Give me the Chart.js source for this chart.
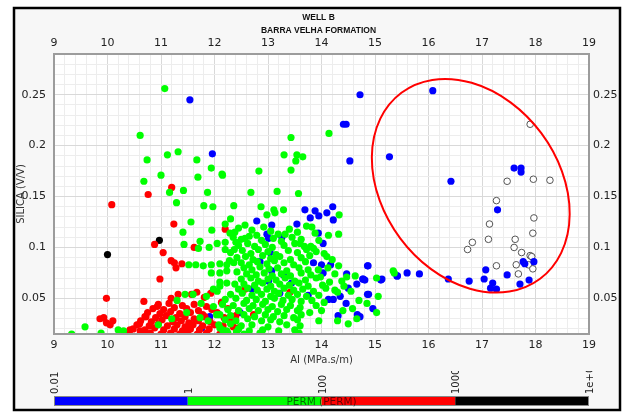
<!DOCTYPE html>
<html><head><meta charset="utf-8">
<script src="https://cdn.jsdelivr.net/npm/chart.js@4/dist/chart.umd.min.js"></script>
<style>html,body{margin:0;padding:0;background:#fff}canvas{display:block}</style>
</head><body>
<canvas id="c" width="624" height="415"></canvas>
<script>
// Acoustic impedance (MPa.s/m) vs silica (V/V), coloured by permeability class
const chartTitle = ['WELL B', 'BARRA VELHA FORMATION'];
const xTitle = 'AI (MPa.s/m)';
const yTitle = 'SILICA (V/V)';
const xRange = [9, 19];
const yRange = [0.015, 0.29];

// PERM < 1 mD
const permLow = [
  [16.08,0.254],[15.27,0.189],[16.42,0.165],[17.60,0.178],[17.73,0.178],[17.73,0.174],[17.29,0.137],
  [17.97,0.086],[17.77,0.086],[17.80,0.084],[17.07,0.078],[17.47,0.073],[17.04,0.069],[17.20,0.065],
  [17.16,0.060],[17.27,0.059],[17.71,0.064],[17.88,0.068],[16.76,0.067],[16.37,0.069],
  [15.83,0.074],[15.60,0.075],[15.42,0.072],[15.11,0.068],[14.96,0.040],[14.88,0.054],[14.87,0.082],
  [14.81,0.068],[14.77,0.069],[14.72,0.032],[14.72,0.250],[14.41,0.221],[14.46,0.221],[14.53,0.185],
  [13.69,0.137],[13.88,0.136],[14.21,0.140],[13.79,0.129],[13.95,0.131],[14.10,0.134],[14.22,0.127],
  [13.54,0.123],[13.07,0.122],[12.79,0.126],[12.98,0.113],[13.01,0.109],[13.26,0.110],[13.94,0.114],
  [14.03,0.104],[13.85,0.085],[14.00,0.083],[14.03,0.075],[14.17,0.083],[14.47,0.074],[14.78,0.069],
  [14.86,0.082],[15.13,0.069],[15.41,0.072],[14.50,0.060],[14.66,0.064],[14.86,0.054],[14.46,0.045],
  [14.67,0.034],[14.31,0.033],[14.22,0.049],[14.35,0.052],[14.13,0.049],[13.75,0.053],
  [11.54,0.245],[11.96,0.192],[11.91,0.032],[11.76,0.021],[12.46,0.037],
  [12.85,0.086],[13.07,0.077],[13.04,0.095],[13.01,0.067],[13.29,0.073],[13.44,0.065],[12.70,0.059],
  [12.48,0.036],[13.22,0.055]
];

// 1 mD <= PERM < 100 mD
const permMid = [
  [11.07,0.256],[10.61,0.210],[13.43,0.208],[14.14,0.212],[13.30,0.191],[13.54,0.191],[13.65,0.189],
  [13.52,0.185],[11.12,0.191],[11.32,0.194],[10.74,0.186],[11.67,0.186],[11.94,0.178],[12.14,0.172],
  [11.69,0.169],[11.00,0.171],[10.68,0.165],[12.83,0.175],[13.43,0.176],[12.15,0.171],[11.16,0.154],
  [11.42,0.156],[11.87,0.154],[12.68,0.154],[13.17,0.155],[13.57,0.153],[11.29,0.144],[11.80,0.141],
  [11.97,0.140],[12.36,0.141],[12.87,0.140],[13.11,0.137],[13.29,0.137],[13.13,0.134],[12.98,0.132],
  [14.33,0.132],[12.30,0.128],[12.57,0.122],[11.56,0.125],[12.20,0.123],[11.41,0.115],[11.95,0.117],
  [12.38,0.115],
  [11.43,0.103],[11.73,0.106],[11.70,0.099],[11.90,0.100],[12.05,0.104],[12.20,0.105],[12.40,0.105],
  [12.20,0.098],[12.37,0.098],[12.29,0.114],[12.57,0.109],[12.79,0.112],[13.19,0.113],[13.32,0.113],
  [13.72,0.121],[13.82,0.120],[13.88,0.114],[14.13,0.112],[14.32,0.113],[13.60,0.104],[13.72,0.098],
  [13.80,0.101],[14.10,0.091],
  [11.52,0.083],[11.65,0.083],[11.79,0.082],[11.94,0.083],[12.10,0.084],[12.23,0.083],[12.36,0.085],
  [11.94,0.075],[12.10,0.075],[12.23,0.077],[12.42,0.076],[12.10,0.066],[12.23,0.065],[12.38,0.064],
  [13.94,0.078],[14.32,0.082],[14.38,0.067],[14.47,0.071],[14.63,0.072],[15.03,0.070],[15.34,0.077],
  [15.36,0.075],[15.06,0.052],[15.03,0.036],[14.66,0.030],[14.55,0.057],[14.42,0.062],[14.25,0.058],
  [14.70,0.048],[14.58,0.040],[14.40,0.038],[14.50,0.025],[14.30,0.028],[14.85,0.045],
  [12.45,0.119],[12.70,0.117],[12.92,0.120],[13.05,0.116],[13.40,0.118],[13.55,0.115],
  [12.35,0.110],[12.50,0.108],[12.65,0.111],[12.88,0.107],[13.10,0.109],[13.25,0.106],[13.45,0.110],[13.62,0.108],[13.95,0.107],
  [12.45,0.102],[12.62,0.104],[12.75,0.101],[12.95,0.103],[13.08,0.100],[13.30,0.102],[13.50,0.104],[13.68,0.101],[13.85,0.099],
  [12.30,0.095],[12.52,0.097],[12.68,0.094],[12.82,0.098],[13.00,0.096],[13.15,0.093],[13.38,0.097],[13.55,0.095],[13.90,0.096],[14.05,0.094],
  [12.42,0.090],[12.58,0.091],[12.72,0.088],[12.90,0.092],[13.05,0.089],[13.22,0.091],[13.42,0.088],[13.62,0.090],[13.78,0.092],
  [12.28,0.087],[12.50,0.085],[12.65,0.083],[12.80,0.086],[12.98,0.084],[13.12,0.087],[13.30,0.085],[13.48,0.083],[13.70,0.086],[14.20,0.088],
  [12.55,0.080],[12.70,0.078],[12.85,0.081],[13.02,0.079],[13.18,0.080],[13.35,0.077],[13.58,0.080],[13.75,0.078],[14.12,0.080],
  [12.60,0.074],[12.78,0.073],[12.93,0.075],[13.08,0.072],[13.25,0.074],[13.42,0.072],[13.62,0.075],[13.80,0.073],[13.98,0.071],[14.25,0.074],
  [12.50,0.069],[12.68,0.070],[12.82,0.067],[13.00,0.069],[13.15,0.068],[13.32,0.070],[13.50,0.067],[13.70,0.068],[13.90,0.070],[14.15,0.066],
  [12.55,0.064],[12.75,0.063],[12.90,0.065],[13.05,0.062],[13.22,0.064],[13.40,0.063],[13.58,0.065],[13.75,0.062],[14.02,0.063],
  [12.45,0.059],[12.62,0.060],[12.80,0.058],[12.98,0.059],[13.12,0.057],[13.30,0.060],[13.48,0.058],[13.65,0.059],[13.85,0.057],[14.08,0.060],[14.30,0.056],
  [12.30,0.054],[12.52,0.055],[12.70,0.053],[12.88,0.054],[13.05,0.052],[13.20,0.055],[13.38,0.053],[13.55,0.054],[13.72,0.052],[13.95,0.053],
  [12.20,0.049],[12.40,0.050],[12.60,0.048],[12.78,0.049],[12.95,0.047],[13.12,0.050],[13.28,0.048],[13.45,0.049],[13.62,0.047],[13.82,0.048],[14.05,0.046],
  [12.15,0.044],[12.35,0.043],[12.55,0.045],[12.72,0.043],[12.90,0.044],[13.08,0.042],[13.25,0.044],[13.42,0.043],[13.60,0.041],[13.90,0.043],
  [12.25,0.039],[12.45,0.038],[12.65,0.040],[12.82,0.038],[13.00,0.039],[13.18,0.037],[13.35,0.039],[13.55,0.038],[13.78,0.036],[14.00,0.038],
  [12.10,0.034],[12.30,0.033],[12.55,0.034],[12.75,0.032],[12.95,0.034],[13.10,0.032],[13.30,0.033],[13.48,0.031],[13.62,0.034],
  [12.20,0.029],[12.40,0.028],[12.62,0.030],[12.88,0.028],[13.05,0.029],[13.22,0.027],[13.55,0.029],[13.95,0.028],
  [12.08,0.024],[12.30,0.025],[12.50,0.023],[12.70,0.024],[13.00,0.022],[13.35,0.024],[13.60,0.023],
  [12.15,0.019],[12.45,0.020],[12.65,0.018],[12.90,0.019],[13.20,0.018],[13.50,0.019],
  [12.25,0.016],[12.55,0.015],[12.85,0.016],[13.58,0.016],
  [9.33,0.015],[9.58,0.022],[9.88,0.016],[10.20,0.019],[10.30,0.018],[11.45,0.054],[11.60,0.054],
  [11.85,0.052],[11.98,0.059],[12.10,0.062],[12.05,0.057],[11.48,0.036],[11.98,0.042],[12.04,0.034],
  [11.73,0.031],[11.88,0.028],[12.10,0.021],[12.23,0.018],[12.41,0.017],[11.30,0.048],[11.75,0.045],
  [11.20,0.030],[10.95,0.024]
];

// 100 mD <= PERM < 10000 mD
const permHigh = [
  [11.20,0.159],[10.76,0.152],[10.08,0.142],[11.24,0.123],[12.20,0.118],[10.88,0.103],[11.04,0.095],
  [11.62,0.100],[11.19,0.087],[11.25,0.085],[11.28,0.080],[11.39,0.084],[10.98,0.069],[9.98,0.050],
  [10.68,0.047],[10.93,0.042],[11.19,0.050],[11.32,0.054],[11.57,0.054],[11.67,0.056],[11.81,0.051],
  [11.93,0.055],[12.57,0.059],[13.41,0.056],[12.38,0.031],[12.13,0.046],[12.16,0.023],[12.73,0.034],
  [9.86,0.030],[9.93,0.031],[9.98,0.026],[10.05,0.024],[10.10,0.028],[10.42,0.019],[10.60,0.025],
  [10.72,0.032],[10.61,0.018],
  [10.95,0.044],[11.15,0.045],[11.40,0.043],[11.62,0.044],[11.85,0.042],
  [10.85,0.040],[11.05,0.039],[11.25,0.041],[11.48,0.040],[11.70,0.038],[11.95,0.039],[12.25,0.040],
  [10.75,0.036],[10.98,0.035],[11.18,0.037],[11.35,0.035],[11.55,0.036],[11.78,0.034],[12.05,0.036],
  [10.70,0.032],[10.90,0.031],[11.10,0.033],[11.28,0.031],[11.45,0.032],[11.62,0.030],[11.82,0.032],[12.18,0.031],[12.40,0.033],
  [10.62,0.028],[10.82,0.027],[11.02,0.029],[11.22,0.027],[11.38,0.028],[11.52,0.026],[11.70,0.028],[11.92,0.027],[12.30,0.028],
  [10.55,0.024],[10.78,0.023],[10.95,0.025],[11.12,0.023],[11.30,0.024],[11.45,0.022],[11.60,0.024],[11.78,0.023],[12.00,0.024],[12.35,0.022],
  [10.48,0.020],[10.70,0.019],[10.88,0.021],[11.05,0.019],[11.25,0.020],[11.40,0.018],[11.55,0.020],[11.72,0.019],[11.90,0.020],[12.45,0.021],
  [10.40,0.016],[10.62,0.015],[10.80,0.016],[11.00,0.015],[11.18,0.016],[11.35,0.015],[11.50,0.016],[11.68,0.015],[11.85,0.016],[12.10,0.015]
];

// PERM >= 10000 mD
const permVeryHigh = [[10.00,0.093],[10.97,0.107]];

// no permeability value
const permMissing = [
  [17.90,0.221],[17.47,0.165],[17.96,0.167],[18.27,0.166],[17.27,0.146],[17.97,0.129],[17.14,0.123],
  [17.95,0.114],[17.12,0.108],[16.82,0.105],[16.73,0.098],[17.62,0.108],[17.60,0.100],[17.74,0.095],
  [17.90,0.092],[17.93,0.091],[17.64,0.083],[17.27,0.082],[17.87,0.083],[17.68,0.074],[17.95,0.079]
];

// colour scale (log10 PERM): boundaries and their labels
const permBounds = [0.01, 1, 100, 10000, 1e6];
const permBoundLabels = ['0.01', '1', '100', '10000', '1e+06'];
const permColors = ['#0000ff', '#00ff00', '#ff0000', '#000000'];
const permLabel = 'PERM (PERM)';

// highlighted group: centre in data units, radii (px) and tilt
const ringCentre = [16.79, 0.1606];

const FONT = '"DejaVu Sans", Verdana, sans-serif';
const toPts = arr => arr.map(p => ({x: p[0], y: p[1]}));
const isMajorX = v => Math.abs(v - Math.round(v)) < 1e-6;
const isMajorY = v => Math.abs(v * 20 - Math.round(v * 20)) < 1e-6;
const fmtY = v => String(Math.round(v * 100) / 100);

const dot = (data, color) => ({
  data: toPts(data), backgroundColor: color, borderWidth: 0,
  pointRadius: 3.6, pointHoverRadius: 3.6, clip: 0
});

const decor = {
  id: 'decor',
  beforeDraw(chart) {
    const {ctx, chartArea: a} = chart;
    ctx.save();
    ctx.fillStyle = '#ffffff';
    ctx.fillRect(0, 0, chart.width, chart.height);
    ctx.fillStyle = '#f7f7f7';
    ctx.fillRect(14, 8, 606, 402);
    ctx.fillStyle = '#ffffff';
    ctx.fillRect(a.left, a.top, a.right - a.left, a.bottom - a.top);
    ctx.restore();
  },
  afterDatasetsDraw(chart) {
    const {ctx, chartArea: a, scales} = chart;
    ctx.save();
    // highlight ring
    const cx = scales.x.getPixelForValue(ringCentre[0]);
    const cy = scales.y.getPixelForValue(ringCentre[1]);
    ctx.strokeStyle = '#ff0000';
    ctx.lineWidth = 2;
    ctx.beginPath();
    ctx.ellipse(cx, cy, 116, 88, 0.93, 0, Math.PI * 2);
    ctx.stroke();
    // plot frame
    ctx.strokeStyle = '#9c9c9c';
    ctx.lineWidth = 2;
    ctx.strokeRect(a.left, a.top, a.right - a.left, a.bottom - a.top);
    ctx.restore();
  },
  afterDraw(chart) {
    const {ctx, chartArea: a} = chart;
    const mid = (a.left + a.right) / 2;
    ctx.save();
    // titles
    ctx.fillStyle = '#111';
    ctx.textAlign = 'center';
    ctx.textBaseline = 'middle';
    ctx.font = 'bold 8.5px "Liberation Sans", Arial, sans-serif';
    ctx.fillText(chartTitle[0], mid - 3, 18);
    ctx.fillText(chartTitle[1], mid - 3, 31);
    ctx.font = '10px ' + FONT;
    ctx.fillStyle = '#333';
    ctx.fillText(xTitle, mid, 360);
    ctx.save();
    ctx.translate(21, 194);
    ctx.rotate(-Math.PI / 2);
    ctx.fillText(yTitle, 0, 0);
    ctx.restore();

    // colour bar
    const top = 396, h = 10;
    const lo = Math.log10(permBounds[0]), hi = Math.log10(permBounds[permBounds.length - 1]);
    const px = v => a.left + (Math.log10(v) - lo) / (hi - lo) * (a.right - a.left);
    for (let i = 0; i < permColors.length; i++) {
      const x0 = px(permBounds[i]), x1 = px(permBounds[i + 1]);
      ctx.fillStyle = permColors[i];
      ctx.fillRect(x0, top, x1 - x0, h);
    }
    ctx.strokeStyle = '#888';
    ctx.lineWidth = 1;
    ctx.strokeRect(a.left + 0.5, top + 0.5, a.right - a.left - 1, h - 1);
    ctx.font = '10.5px ' + FONT;
    ctx.fillStyle = 'rgba(0,0,0,0.6)';
    ctx.fillText(permLabel, px(permBounds[2]), top + h / 2 + 1);

    // boundary labels, rotated and cut at a fixed height
    ctx.save();
    ctx.beginPath();
    ctx.rect(0, 371, chart.width, 24);
    ctx.clip();
    ctx.fillStyle = '#222';
    ctx.font = '10px ' + FONT;
    ctx.textAlign = 'left';
    ctx.textBaseline = 'middle';
    for (let i = 0; i < permBounds.length; i++) {
      ctx.save();
      ctx.translate(Math.round(px(permBounds[i])) + 1, 394);
      ctx.rotate(-Math.PI / 2);
      ctx.fillText(permBoundLabels[i], 0, 0);
      ctx.restore();
    }
    ctx.restore();

    // outer frame
    ctx.strokeStyle = '#000';
    ctx.lineWidth = 2.5;
    ctx.strokeRect(14, 8, 606, 402);
    ctx.restore();
  }
};

const tickFont = {family: FONT, size: 11};

new Chart(document.getElementById('c'), {
  type: 'scatter',
  data: {
    datasets: [
      dot(permMid, permColors[1]),
      dot(permHigh, permColors[2]),
      dot(permLow, permColors[0]),
      dot(permVeryHigh, permColors[3]),
      {
        data: toPts(permMissing), backgroundColor: 'rgba(255,255,255,0.9)', borderColor: '#555',
        borderWidth: 1, pointRadius: 3.3, pointHoverRadius: 3.3, clip: 0
      }
    ]
  },
  options: {
    responsive: false,
    devicePixelRatio: 1,
    animation: false,
    events: [],
    layout: {padding: 0},
    plugins: {legend: {display: false}, tooltip: {enabled: false}},
    scales: {
      x: {
        type: 'linear', position: 'bottom', min: xRange[0], max: xRange[1],
        ticks: {stepSize: 0.2, autoSkip: false, maxRotation: 0, padding: 5, font: tickFont, color: '#222',
          callback: v => isMajorX(v) ? String(Math.round(v)) : ''},
        grid: {drawTicks: false, color: c => isMajorX(c.tick.value) ? '#d9d9d9' : '#ededed'},
        border: {display: false},
        afterFit: s => { s.height = 81; }
      },
      x2: {
        type: 'linear', position: 'top', min: xRange[0], max: xRange[1],
        ticks: {stepSize: 1, maxRotation: 0, padding: 4, font: tickFont, color: '#222'},
        grid: {display: false, drawTicks: false},
        border: {display: false},
        afterFit: s => { s.height = 54; }
      },
      y: {
        type: 'linear', position: 'left', min: yRange[0], max: yRange[1],
        ticks: {stepSize: 0.01, includeBounds: false, autoSkip: false, padding: 8, font: tickFont, color: '#222',
          callback: v => isMajorY(v) ? fmtY(v) : ''},
        grid: {drawTicks: false, color: c => isMajorY(c.tick.value) ? '#d9d9d9' : '#ededed'},
        border: {display: false},
        afterFit: s => { s.width = 54; }
      },
      y2: {
        type: 'linear', position: 'right', min: yRange[0], max: yRange[1],
        ticks: {stepSize: 0.05, includeBounds: false, padding: 4, font: tickFont, color: '#222',
          callback: v => fmtY(v)},
        grid: {display: false, drawTicks: false},
        border: {display: false},
        afterFit: s => { s.width = 35; }
      }
    }
  },
  plugins: [decor]
});
</script>
</body></html>
